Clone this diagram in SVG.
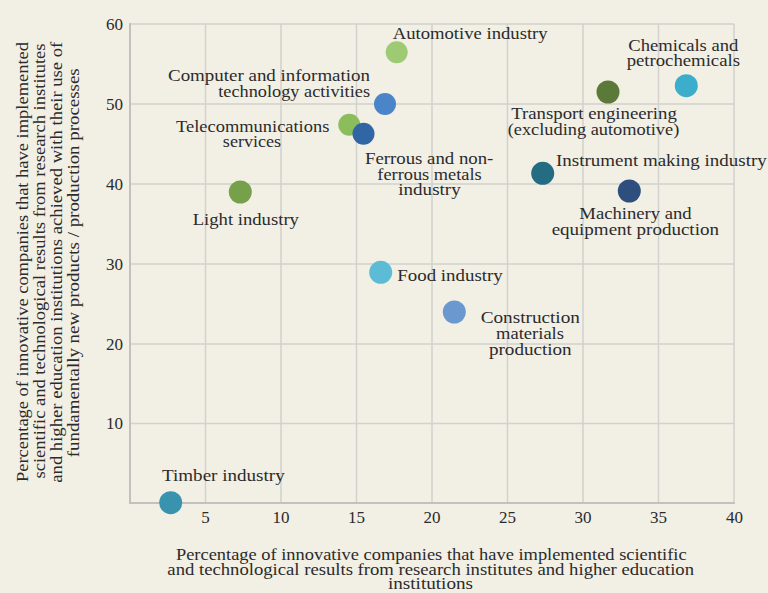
<svg xmlns="http://www.w3.org/2000/svg" width="768" height="593" viewBox="0 0 768 593">
<style>
text{font-family:"Liberation Serif","Times New Roman",serif;fill:#2b2b2b;font-size:17px}
.c{text-anchor:middle}
.r{text-anchor:end}
.tk{font-size:17px}
.grid line{stroke:#d2d1cd;stroke-width:1.5}
.axis line{stroke:#c2c1bd;stroke-width:2}
</style>
<rect width="768" height="593" fill="#f2efe5"/>
<g class="grid">
<line x1="130" y1="24" x2="734" y2="24"/>
<line x1="130" y1="104" x2="734" y2="104"/>
<line x1="130" y1="184" x2="734" y2="184"/>
<line x1="130" y1="264" x2="734" y2="264"/>
<line x1="130" y1="344" x2="734" y2="344"/>
<line x1="130" y1="423.5" x2="734" y2="423.5"/>
<line x1="205.5" y1="24" x2="205.5" y2="503"/>
<line x1="281" y1="24" x2="281" y2="503"/>
<line x1="356.5" y1="24" x2="356.5" y2="503"/>
<line x1="432" y1="24" x2="432" y2="503"/>
<line x1="507.5" y1="24" x2="507.5" y2="503"/>
<line x1="583" y1="24" x2="583" y2="503"/>
<line x1="658.5" y1="24" x2="658.5" y2="503"/>
<line x1="734" y1="24" x2="734" y2="503"/>
</g>
<g class="axis">
<line x1="130" y1="23" x2="130" y2="504"/>
<line x1="129" y1="503" x2="735" y2="503"/>
</g>
<g id="yticks">
<text class="r tk" x="123" y="29.5">60</text>
<text class="r tk" x="123" y="109.5">50</text>
<text class="r tk" x="123" y="189.5">40</text>
<text class="r tk" x="123" y="269.5">30</text>
<text class="r tk" x="123" y="349.5">20</text>
<text class="r tk" x="123" y="429">10</text>
</g>
<g id="xticks">
<text class="c tk" x="205.5" y="523">5</text>
<text class="c tk" x="281" y="523">10</text>
<text class="c tk" x="356.5" y="523">15</text>
<text class="c tk" x="432" y="523">20</text>
<text class="c tk" x="507.5" y="523">25</text>
<text class="c tk" x="583" y="523">30</text>
<text class="c tk" x="658.5" y="523">35</text>
<text class="c tk" x="734.5" y="523">40</text>
</g>
<g id="xtitle">
<text class="c" x="431.3" y="559.5" textLength="510.7" lengthAdjust="spacingAndGlyphs">Percentage of innovative companies that have implemented scientific</text>
<text class="c" x="430.7" y="574.5" textLength="526.7" lengthAdjust="spacingAndGlyphs">and technological results from research institutes and higher education</text>
<text class="c" x="430.5" y="589" textLength="85" lengthAdjust="spacingAndGlyphs">institutions</text>
</g>
<g id="ytitle">
<text class="c" transform="translate(28.3,262) rotate(-90)" textLength="440" lengthAdjust="spacingAndGlyphs">Percentage of innovative companies that have implemented</text>
<text class="c" transform="translate(45.3,261) rotate(-90)" textLength="435" lengthAdjust="spacingAndGlyphs">scientific and technological results from research institutes</text>
<text class="c" transform="translate(62.3,262.2) rotate(-90)" textLength="441" lengthAdjust="spacingAndGlyphs">and higher education institutions achieved with their use of</text>
<text class="c" transform="translate(79.3,262.8) rotate(-90)" textLength="389" lengthAdjust="spacingAndGlyphs">fundamentally new products / production processes</text>
</g>
<g id="automotive"><circle cx="396.7" cy="52.3" r="11" fill="#9dca72"/><text x="392.7" y="38.5" textLength="155" lengthAdjust="spacingAndGlyphs">Automotive industry</text></g>
<g id="computer"><circle cx="385" cy="104" r="11" fill="#4a85c9"/><text class="r" x="370" y="81" textLength="202" lengthAdjust="spacingAndGlyphs">Computer and information</text><text class="r" x="370" y="97" textLength="151.7" lengthAdjust="spacingAndGlyphs">technology activities</text></g>
<g id="telecom"><circle cx="349.3" cy="124.7" r="11" fill="#8bbd5c"/><text class="c" x="252.7" y="132" textLength="153.3" lengthAdjust="spacingAndGlyphs">Telecommunications</text><text class="c" x="252" y="147" textLength="58.3" lengthAdjust="spacingAndGlyphs">services</text></g>
<g id="ferrous"><circle cx="363.5" cy="133.7" r="11" fill="#2f66a3"/><text class="c" x="429.2" y="163.5" textLength="128.3" lengthAdjust="spacingAndGlyphs">Ferrous and non-</text><text class="c" x="429.5" y="179.5" textLength="104.4" lengthAdjust="spacingAndGlyphs">ferrous metals</text><text class="c" x="429.5" y="195" textLength="62.4" lengthAdjust="spacingAndGlyphs">industry</text></g>
<g id="transport"><circle cx="608" cy="92" r="11.5" fill="#5b7a3a"/><text class="c" x="594" y="119" textLength="165.7" lengthAdjust="spacingAndGlyphs">Transport engineering</text><text class="c" x="593.5" y="134.5" textLength="171.6" lengthAdjust="spacingAndGlyphs">(excluding automotive)</text></g>
<g id="chemicals"><circle cx="686.3" cy="85.7" r="11.5" fill="#3caecb"/><text class="c" x="683.3" y="51" textLength="110" lengthAdjust="spacingAndGlyphs">Chemicals and</text><text class="c" x="683.3" y="66" textLength="113.3" lengthAdjust="spacingAndGlyphs">petrochemicals</text></g>
<g id="instrument"><circle cx="542.7" cy="173.3" r="11.5" fill="#236c81"/><text x="556" y="165.5" textLength="210.7" lengthAdjust="spacingAndGlyphs">Instrument making industry</text></g>
<g id="machinery"><circle cx="629.3" cy="191" r="11.5" fill="#2e4f7d"/><text class="c" x="635.5" y="219" textLength="112.4" lengthAdjust="spacingAndGlyphs">Machinery and</text><text class="c" x="635.3" y="234.5" textLength="167.3" lengthAdjust="spacingAndGlyphs">equipment production</text></g>
<g id="light"><circle cx="240.3" cy="192" r="11.5" fill="#76a14a"/><text class="c" x="245.8" y="224.5" textLength="106.3" lengthAdjust="spacingAndGlyphs">Light industry</text></g>
<g id="food"><circle cx="380.7" cy="272.3" r="11.5" fill="#5cbcd5"/><text x="397.3" y="281" textLength="105.4" lengthAdjust="spacingAndGlyphs">Food industry</text></g>
<g id="construction"><circle cx="454.3" cy="312" r="11.5" fill="#6b98cf"/><text class="c" x="530.3" y="323" textLength="99.3" lengthAdjust="spacingAndGlyphs">Construction</text><text class="c" x="530" y="338.5" textLength="68" lengthAdjust="spacingAndGlyphs">materials</text><text class="c" x="530.3" y="354.5" textLength="82.7" lengthAdjust="spacingAndGlyphs">production</text></g>
<g id="timber"><circle cx="170.7" cy="502.7" r="11.5" fill="#3a93ae"/><text x="162" y="481" textLength="122.7" lengthAdjust="spacingAndGlyphs">Timber industry</text></g>
</svg>
